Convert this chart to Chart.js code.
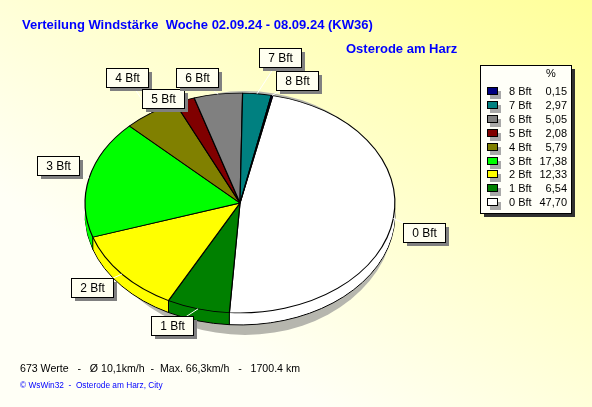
<!DOCTYPE html>
<html>
<head>
<meta charset="utf-8">
<script src="https://cdn.jsdelivr.net/npm/chart.js@4"></script>
<style>
  body { margin: 0; }
  canvas { display: block; }
</style>
</head>
<body>
<canvas id="myChart" width="592" height="407"></canvas>
<script>
// data
const categories = ['0 Bft', '1 Bft', '2 Bft', '3 Bft', '4 Bft', '5 Bft', '6 Bft', '7 Bft', '8 Bft'];
const percents = [47.70, 6.54, 12.33, 17.38, 5.79, 2.08, 5.05, 2.97, 0.15];
const colors = ['#FFFFFF', '#008000', '#FFFF00', '#00FF00', '#808000', '#800000', '#808080', '#008080', '#000080'];

const title = 'Verteilung Windstärke  Woche 02.09.24 - 08.09.24 (KW36)';
const station = 'Osterode am Harz';
const summary = '673 Werte   -   Ø 10,1km/h  -  Max. 66,3km/h   -   1700.4 km';
const footer = '© WsWin32  -  Osterode am Harz, City';

// label nudges so the boxes don't overlap (px)
const labelShift = [[0, 11], [-18, -4], [-6, -1], [-1, -7], [-6, -18], [-11, 19], [-17, 5], [20, -14], [19, 7]];

const SQUASH = 110 / 155;   // ellipse look
const DEPTH = 12;
const FONT = '"Liberation Sans", Arial, sans-serif';

const fmt = v => v.toFixed(2).replace('.', ',');

// pie drawn as a flat 3d ellipse + labels, legend and texts
const pie3d = {
    id: 'pie3d',
    beforeDraw(chart) {
        const {ctx, width, height} = chart;
        const g = ctx.createLinearGradient(width, 0, width * 0.55, height);
        g.addColorStop(0, '#FFFF99');
        g.addColorStop(1, '#FFFFF6');
        ctx.save();
        ctx.fillStyle = g;
        ctx.fillRect(0, 0, width, height);
        ctx.restore();
    },
    beforeDatasetsDraw(chart) {
        const ctx = chart.ctx;
        const arcs = chart.getDatasetMeta(0).data;
        const {x: cx, y: cy, outerRadius: r} = arcs[0];

        ctx.save();
        // shadow
        ctx.fillStyle = '#b6b6ae';
        ctx.beginPath();
        ctx.ellipse(cx + 5, cy + 10, r - 5, r * SQUASH + 12, 0, 0, Math.PI * 2);
        ctx.fill();

        // side of the pie
        for (let d = DEPTH; d >= 1; d--) {
            arcs.forEach((arc, i) => {
                ctx.save();
                ctx.translate(cx, cy + d);
                ctx.scale(1, SQUASH);
                ctx.beginPath();
                ctx.moveTo(0, 0);
                ctx.arc(0, 0, r, arc.startAngle, arc.endAngle);
                ctx.closePath();
                ctx.restore();
                ctx.fillStyle = colors[i];
                ctx.fill();
                if (d === DEPTH) {
                    ctx.strokeStyle = '#000';
                    ctx.lineWidth = 1;
                    ctx.stroke();
                }
            });
        }
        // edges on the front side
        ctx.strokeStyle = '#000';
        ctx.lineWidth = 1;
        arcs.forEach(arc => {
            const a = arc.startAngle;
            if (Math.sin(a) > 0) {
                const px = cx + r * Math.cos(a), py = cy + r * SQUASH * Math.sin(a);
                ctx.beginPath();
                ctx.moveTo(px, py);
                ctx.lineTo(px, py + DEPTH);
                ctx.stroke();
            }
        });
        ctx.restore();

        // top face, drawn by chart.js squashed
        ctx.save();
        ctx.translate(cx, cy);
        ctx.scale(1, SQUASH);
        ctx.translate(-cx, -cy);
    },
    afterDatasetsDraw(chart) {
        const ctx = chart.ctx;
        ctx.restore();
        const arcs = chart.getDatasetMeta(0).data;
        const {x: cx, y: cy, outerRadius: r} = arcs[0];

        ctx.save();
        // label boxes
        ctx.font = '12px ' + FONT;
        ctx.textAlign = 'center';
        ctx.textBaseline = 'middle';
        arcs.forEach((arc, i) => {
            const mid = (arc.startAngle + arc.endAngle) / 2;
            const ex = cx + r * Math.cos(mid), ey = cy + r * SQUASH * Math.sin(mid);
            const lx = cx + 1.2 * r * Math.cos(mid) + labelShift[i][0];
            const ly = cy + 1.2 * r * SQUASH * Math.sin(mid) + labelShift[i][1];
            ctx.strokeStyle = '#FFFFFF';
            ctx.lineWidth = 1;
            ctx.beginPath();
            ctx.moveTo(ex, ey);
            ctx.lineTo(lx, ly);
            ctx.stroke();

            const bx = Math.round(lx - 21) + 0.5, by = Math.round(ly - 9.5) + 0.5;
            ctx.fillStyle = '#808080';
            ctx.fillRect(bx + 3.5, by + 3.5, 42, 19);
            ctx.fillStyle = '#FFFFF0';
            ctx.fillRect(bx, by, 42, 19);
            ctx.strokeStyle = '#000';
            ctx.strokeRect(bx, by, 42, 19);
            ctx.fillStyle = '#000';
            ctx.fillText(categories[i], bx + 21, by + 10);
        });

        // legend
        const lgX = 480.5, lgY = 65.5, lgW = 91, lgH = 148;
        ctx.fillStyle = '#303030';
        ctx.fillRect(lgX + 3.5, lgY + 3.5, lgW, lgH);
        ctx.fillStyle = '#FFFFF8';
        ctx.fillRect(lgX, lgY, lgW, lgH);
        ctx.strokeStyle = '#000';
        ctx.strokeRect(lgX, lgY, lgW, lgH);
        ctx.font = '11px ' + FONT;
        ctx.fillStyle = '#000';
        ctx.textAlign = 'center';
        ctx.fillText('%', 551, 74);
        for (let k = 0; k < categories.length; k++) {
            const i = categories.length - 1 - k;
            const y = 92 + k * 13.9;
            ctx.fillStyle = '#a8a8a8';
            ctx.fillRect(490, Math.round(y) - 1, 11, 8);
            ctx.fillStyle = colors[i];
            ctx.fillRect(487.5, Math.round(y) - 4.5, 10, 7);
            ctx.strokeStyle = '#000';
            ctx.strokeRect(487.5, Math.round(y) - 4.5, 10, 7);
            ctx.fillStyle = '#000';
            ctx.textAlign = 'left';
            ctx.fillText(categories[i], 509, y);
            ctx.textAlign = 'right';
            ctx.fillText(fmt(percents[i]), 567, y);
        }

        // title and texts
        ctx.textAlign = 'left';
        ctx.fillStyle = '#0000FF';
        ctx.font = 'bold 13px ' + FONT;
        ctx.fillText(title, 22, 25);
        ctx.fillText(station, 346, 49);
        ctx.fillStyle = '#000';
        ctx.font = '10.6px ' + FONT;
        ctx.fillText(summary, 20, 369);
        ctx.fillStyle = '#0000FF';
        ctx.font = '8.3px ' + FONT;
        ctx.fillText(footer, 20, 386);
        ctx.restore();
    }
};

const ctx = document.getElementById('myChart').getContext('2d');
const chart = new Chart(ctx, {
    type: 'pie',
    data: {
        labels: categories,
        datasets: [{
            data: percents,
            backgroundColor: colors,
            borderColor: '#000000',
            borderWidth: 1.2
        }]
    },
    options: {
        responsive: false,
        animation: false,
        events: [],
        rotation: 12.2,
        layout: {
            padding: {left: 84.5, right: 196.5, top: 47.5, bottom: 48.5}
        },
        plugins: {
            legend: {display: false},
            tooltip: {enabled: false}
        }
    },
    plugins: [pie3d]
});
</script>
</body>
</html>
